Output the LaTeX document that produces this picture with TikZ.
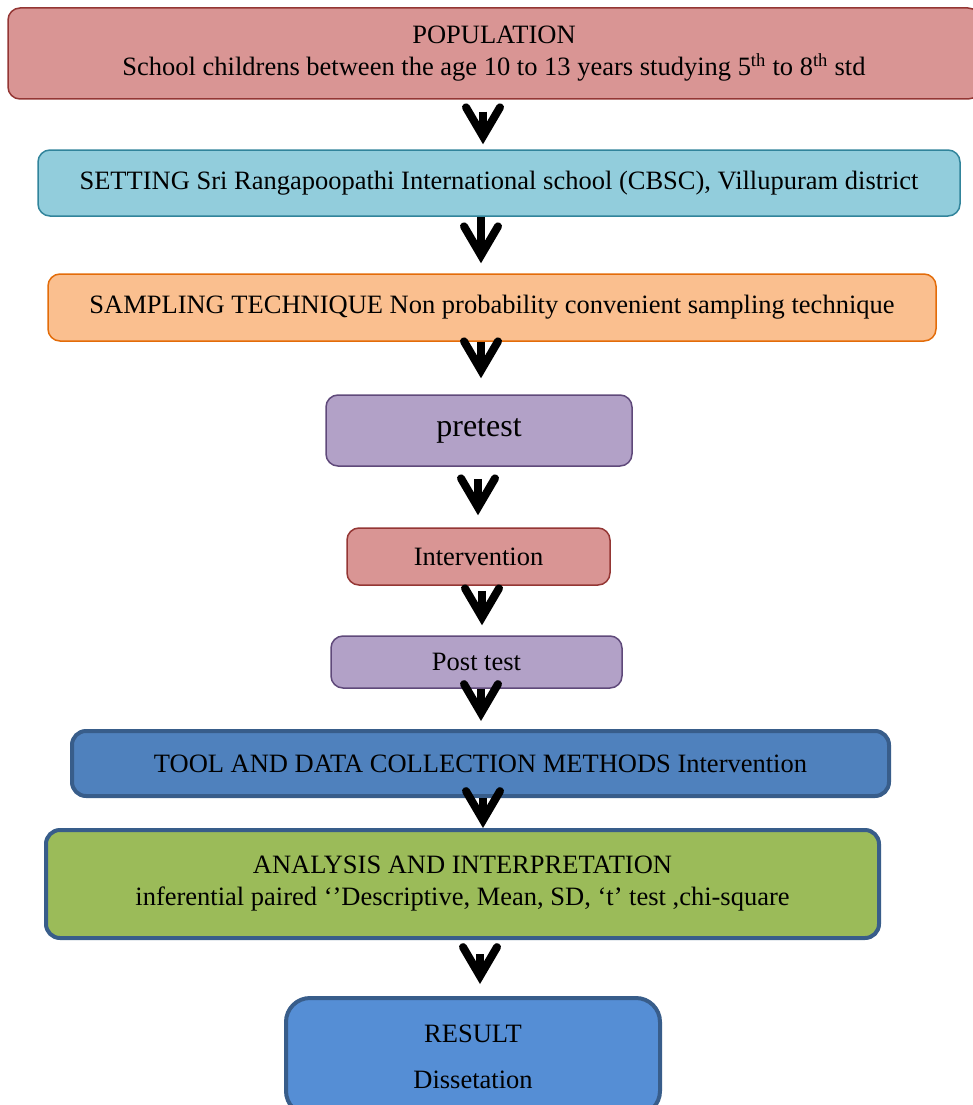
\documentclass[tikz,border=0pt]{standalone}
\usepackage{fontspec}
\setmainfont{Liberation Serif}
\usetikzlibrary{arrows.meta}
\definecolor{popfill}{HTML}{D99594}
\definecolor{popline}{HTML}{943634}
\definecolor{setfill}{HTML}{92CDDC}
\definecolor{setline}{HTML}{31849B}
\definecolor{sampfill}{HTML}{FABF8F}
\definecolor{sampline}{HTML}{E36C09}
\definecolor{purfill}{HTML}{B2A1C7}
\definecolor{purline}{HTML}{5F497A}
\definecolor{toolfill}{HTML}{4F81BD}
\definecolor{bluline}{HTML}{385D8A}
\definecolor{anafill}{HTML}{9BBB59}
\definecolor{resfill}{HTML}{558ED5}
\tikzset{
  box/.style={draw, rounded corners=12pt, inner sep=0pt, align=center,
    line width=1.5pt, font=\fontsize{26.5}{32}\selectfont},
  thickbox/.style={box, line width=4pt, rounded corners=14pt},
  arr/.style={line width=8pt, -{Straight Barb[length=29pt,width=34pt,line cap=round,line join=miter]}}
}
\begin{document}
\begin{tikzpicture}[x=1pt,y=-1pt]
\useasboundingbox (0,0) rectangle (972,1105);
\coordinate (axis) at (481,0);
\node[box, fill=popfill, draw=popline, minimum width=972pt, minimum height=91pt] (pop) at (494,53.5)
  {POPULATION\\School childrens between the age 10 to 13 years studying 5\textsuperscript{th} to 8\textsuperscript{th} std};
\node[box, fill=setfill, draw=setline, minimum width=922pt, minimum height=66pt] (set) at (499,183)
  {SETTING Sri Rangapoopathi International school (CBSC), Villupuram district};
\node[box, fill=sampfill, draw=sampline, minimum width=888pt, minimum height=67pt] (samp) at (492,307.5)
  {SAMPLING TECHNIQUE Non probability convenient sampling technique};
\node[box, fill=purfill, draw=purline, minimum width=306pt, minimum height=71pt, font=\fontsize{32}{38}\selectfont] (pre) at (479,430.5)
  {pretest};
\node[box, fill=popfill, draw=popline, minimum width=263pt, minimum height=57pt] (int) at (478.5,556.5)
  {Intervention};
\node[box, fill=purfill, draw=purline, minimum width=291pt, minimum height=52pt] (post) at (476.5,662)
  {Post test};
\node[thickbox, fill=toolfill, draw=bluline, minimum width=817pt, minimum height=65pt] (tool) at (480.5,763.5)
  {TOOL AND DATA COLLECTION METHODS Intervention};
\node[thickbox, fill=anafill, draw=bluline, minimum width=833pt, minimum height=108pt] (ana) at (462.5,884)
  {ANALYSIS AND INTERPRETATION\\inferential paired `'Descriptive, Mean, SD, `t' test ,chi-square};
\node[thickbox, fill=resfill, draw=bluline, rounded corners=24pt, minimum width=374pt, minimum height=117pt] (res) at (473,1056.5)
  {RESULT\\[14pt]Dissetation};
\draw[arr, shorten <=12pt, shorten >=5pt] (pop.south -| 483,0) -- (set.north -| 483,0);
\draw[arr, shorten >=10pt] (set.south -| axis) -- (samp.north -| axis);
\draw[arr, shorten >=16pt] (samp.south -| axis) -- (pre.north -| axis);
\draw[arr, shorten <=12pt, shorten >=12pt] (pre.south -| 478,0) -- (int.north -| 478,0);
\draw[arr, shorten <=5pt, shorten >=10pt] (int.south -| 482,0) -- (post.north -| 482,0);
\draw[arr, shorten >=8pt] (post.south -| axis) -- (tool.north -| axis);
\draw[arr] (tool.south -| 483,0) -- (ana.north -| 483,0);
\draw[arr, shorten <=14pt, shorten >=12pt] (ana.south -| 480,0) -- (res.north -| 480,0);
\end{tikzpicture}
\end{document}
